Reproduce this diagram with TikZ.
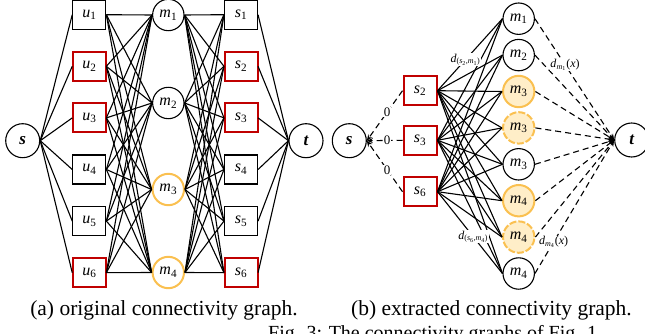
\documentclass[tikz,border=0pt]{standalone}
\usepackage{fontspec}
\setmainfont{Liberation Serif}
\usetikzlibrary{arrows.meta}
\definecolor{boxred}{RGB}{192,0,0}
\definecolor{ringyellow}{RGB}{250,192,80}
\definecolor{ringfill}{RGB}{255,238,200}
\newcommand\nlab[2]{\textit{#1}\textsubscript{#2}}
\begin{document}
\begin{tikzpicture}[x=1pt,y=-1pt,
  every node/.style={font=\fontsize{16}{18}\selectfont, inner sep=0pt},
  link/.style={line width=1.1pt},
  flow/.style={line width=1.1pt, dash pattern=on 6pt off 4pt},
  tip/.style={-{Stealth[length=6pt,width=5pt]}},
  ring/.style={circle, draw, fill=white, line width=1.1pt, minimum size=31.4pt},
  term/.style={circle, draw, fill=white, line width=1.1pt, minimum size=34pt,
    font=\fontsize{17}{19}\selectfont\bfseries\itshape},
  cell/.style={rectangle, draw, fill=white, line width=1.1pt, minimum width=33pt, minimum height=29pt},
  hot/.style={draw=boxred, line width=2pt},
  gold/.style={draw=ringyellow, line width=2pt},
  goldfill/.style={gold, fill=ringfill},
  golddash/.style={goldfill, dash pattern=on 7pt off 2pt},
  wt/.style={font=\fontsize{12}{14}\selectfont, fill=white, inner sep=0.6pt},
  zero/.style={font=\fontsize{13}{15}\selectfont, fill=white, inner sep=0.8pt},
  captext/.style={font=\fontsize{21.5}{24}\selectfont, anchor=base},
]
\useasboundingbox (0,0) rectangle (645,334);

% ---------- (a) original connectivity graph ----------
\node[term] (sa) at (22.7,140.7) {s};
\node[term] (ta) at (306,140.7) {t};
\foreach \i/\y in {1/14.7,2/66.3,3/117.9,4/169.5,5/221.1,6/272.7}{
  \node[cell] (u\i) at (89.3,\y) {\nlab{u}{\i}};
  \node[cell] (v\i) at (241,\y) {\nlab{s}{\i}};
}
\foreach \i in {2,3,6}{
  \node[cell,hot] at (u\i) {\nlab{u}{\i}};
  \node[cell,hot] at (v\i) {\nlab{s}{\i}};
}
\node[ring] (ma1) at (168.3,15) {\nlab{m}{1}};
\node[ring] (ma2) at (168.3,103) {\nlab{m}{2}};
\node[ring,gold] (ma3) at (168.3,189.5) {\nlab{m}{3}};
\node[ring,gold] (ma4) at (168.3,272.5) {\nlab{m}{4}};

\foreach \i in {1,...,6}{
  \draw[link] (sa.east) -- (u\i.west);
  \draw[link] (v\i.east) -- (ta.west);
  \foreach \j in {1,...,4}{
    \draw[link] (u\i.east) -- (ma\j.west);
    \draw[link] (ma\j.east) -- (v\i.west);
  }
}

% ---------- (b) extracted connectivity graph ----------
\node[term] (sb) at (349.3,140.7) {s};
\node[term] (tb) at (631.7,140) {t};
\node[cell,hot] (b2) at (420,90.7) {\nlab{s}{2}};
\node[cell,hot] (b3) at (420,140.3) {\nlab{s}{3}};
\node[cell,hot] (b6) at (420,191.7) {\nlab{s}{6}};

\node[ring]          (r1) at (518.7,18.7)  {\nlab{m}{1}};
\node[ring]          (r2) at (518.7,55.1)  {\nlab{m}{2}};
\node[ring,goldfill] (r3) at (518.7,91.5)  {\nlab{m}{3}};
\node[ring,golddash] (r4) at (518.7,127.9) {\nlab{m}{3}};
\node[ring]          (r5) at (518.7,164.3) {\nlab{m}{3}};
\node[ring,goldfill] (r6) at (518.7,200.7) {\nlab{m}{4}};
\node[ring,golddash] (r7) at (518.7,237.1) {\nlab{m}{4}};
\node[ring]          (r8) at (518.7,273.5) {\nlab{m}{4}};

\foreach \k in {2,3,6}{
  \draw[flow,tip] (b\k.west) -- (sb.east);
  \foreach \j in {1,...,8}
    \draw[link] (b\k.east) -- (r\j.west);
}
\foreach \j in {1,...,8}
  \draw[flow,tip] (r\j.east) -- (tb.west);

% edge weights
\foreach \k in {2,3,6}
  \path (b\k.west) -- (sb.east) node[zero,pos=0.43] {0};
\path (b2.east) -- (r1.west) node[wt,pos=0.43]
  {\textit{d}\textsubscript{(\textit{s}\textsubscript{2},\textit{m}\textsubscript{1})}};
\path (b6.east) -- (r8.west) node[wt,pos=0.55]
  {\textit{d}\textsubscript{(\textit{s}\textsubscript{6},\textit{m}\textsubscript{4})}};
\path (r1.east) -- (tb.west) node[wt,pos=0.38]
  {\textit{d}\textsubscript{\textit{m}\textsubscript{1}}(\textit{x})};
\path (r8.east) -- (tb.west) node[wt,pos=0.235]
  {\textit{d}\textsubscript{\textit{m}\textsubscript{4}}(\textit{x})};

% ---------- captions ----------
\node[captext] (capa) at (164,315) {(a) original connectivity graph.};
\node[captext] (capb) at (491.5,315) {(b) extracted connectivity graph.};
\node[captext, anchor=base west, font=\fontsize{20}{22}\selectfont] (capf) at (268,339)
  {Fig. 3: The connectivity graphs of Fig. 1.};
\end{tikzpicture}
\end{document}
